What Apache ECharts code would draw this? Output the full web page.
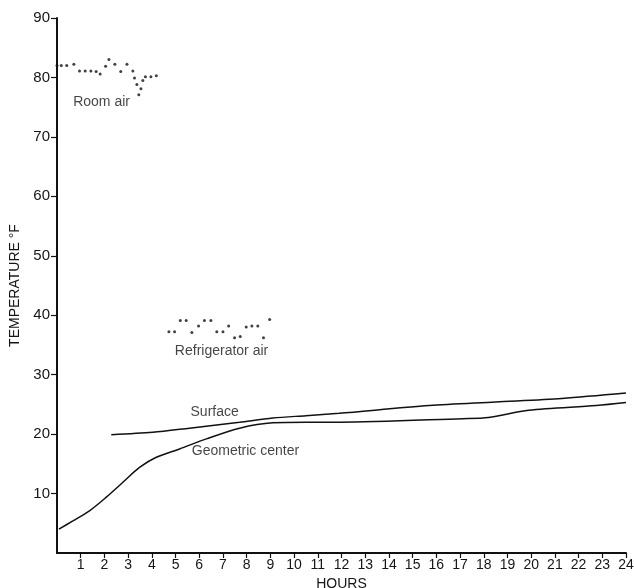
<!DOCTYPE html>
<html>
<head>
<meta charset="utf-8">
<script src="https://cdn.jsdelivr.net/npm/echarts@6/dist/echarts.min.js"></script>
<style>
html,body{margin:0;padding:0;background:#fff;}
#chart{width:634px;height:588px;}
</style>
</head>
<body>
<div id="chart"></div>
<script>
// Room air (dotted record)
var roomAirHours = [0.0, 0.18, 0.41, 0.71, 0.95, 1.19, 1.43, 1.65, 1.82, 2.05, 2.19, 2.44, 2.69, 2.95, 3.2, 3.27, 3.37, 3.45, 3.54, 3.62, 3.73, 3.96, 4.19];
var roomAirTemps = [82.0, 82.0, 82.0, 82.2, 81.1, 81.1, 81.1, 81.0, 80.6, 81.9, 83.0, 82.2, 81.0, 82.2, 81.1, 79.9, 78.8, 77.1, 78.1, 79.5, 80.1, 80.1, 80.3];

// Refrigerator air (dotted record)
var fridgeAirHours = [4.72, 4.96, 5.2, 5.45, 5.69, 5.97, 6.22, 6.49, 6.74, 7.0, 7.24, 7.49, 7.73, 7.98, 8.22, 8.47, 8.71, 8.97];
var fridgeAirTemps = [37.2, 37.2, 39.1, 39.1, 37.1, 38.2, 39.1, 39.1, 37.2, 37.2, 38.2, 36.2, 36.4, 38.0, 38.2, 38.2, 36.2, 39.3];

// Surface
var surfaceHours = [2.29, 4.04, 5.59, 7.7, 9.1, 10.5, 11.9, 15.7, 18.5, 21.3, 24.0];
var surfaceTemps = [19.9, 20.3, 21.0, 22.0, 22.7, 23.1, 23.5, 24.8, 25.4, 26.0, 26.9];

// Geometric center
var centerHours = [0.08, 0.67, 1.37, 2.08, 2.78, 3.48, 4.19, 5.17, 6.3, 7.7, 9.1, 10.5, 11.9, 17.1, 18.2, 19.9, 22.75, 24.0];
var centerTemps = [4.0, 5.4, 7.1, 9.4, 11.9, 14.4, 16.1, 17.5, 19.2, 21.0, 21.9, 22.0, 22.0, 22.6, 22.8, 24.0, 24.8, 25.3];

// Tick values shown on the axes
var xTicks = [1,2,3,4,5,6,7,8,9,10,11,12,13,14,15,16,17,18,19,20,21,22,23,24];
var yTicks = [10,20,30,40,50,60,70,80,90];

// Text annotations [hour, temp, text]
var annotations = [
  [1.88, 75.9, 'Room air'],
  [6.94, 34.0, 'Refrigerator air'],
  [6.65, 23.7, 'Surface'],
  [7.95, 17.2, 'Geometric center']
];

function zip(a, b) { return a.map(function (v, i) { return [v, b[i]]; }); }

var FONT = 'Liberation Sans';
var TXT = '#151515';
var chart = echarts.init(document.getElementById('chart'), null, {renderer: 'canvas'});
chart.setOption({
  animation: false,
  backgroundColor: '#ffffff',
  grid: {left: 57, right: 8, top: 18, bottom: 35, containLabel: false, outerBoundsMode: 'none'},
  xAxis: {
    type: 'value', min: 0, max: 24, interval: 1,
    name: 'HOURS', nameLocation: 'middle', nameGap: 23,
    nameTextStyle: {fontFamily: FONT, fontSize: 14, color: TXT},
    axisLine: {lineStyle: {color: '#111', width: 2}},
    axisTick: {inside: false, length: 5, customValues: xTicks, lineStyle: {color: '#111', width: 1.2}},
    axisLabel: {fontFamily: FONT, fontSize: 14, color: TXT, margin: 5, customValues: xTicks},
    splitLine: {show: false}
  },
  yAxis: {
    type: 'value', min: 0, max: 90, interval: 10,
    name: 'TEMPERATURE °F', nameLocation: 'middle', nameGap: 31, nameRotate: 90,
    nameTextStyle: {fontFamily: FONT, fontSize: 14, color: TXT},
    axisLine: {lineStyle: {color: '#111', width: 2}},
    axisTick: {inside: false, length: 6, customValues: yTicks, lineStyle: {color: '#111', width: 1.2}},
    axisLabel: {fontFamily: FONT, fontSize: 15, color: TXT, margin: 7, customValues: yTicks},
    splitLine: {show: false}
  },
  series: [
    {
      type: 'scatter', name: 'Room air', data: zip(roomAirHours, roomAirTemps),
      symbol: 'circle', symbolSize: 3, itemStyle: {color: '#111'}, silent: true
    },
    {
      type: 'scatter', name: 'Refrigerator air', data: zip(fridgeAirHours, fridgeAirTemps),
      symbol: 'circle', symbolSize: 3, itemStyle: {color: '#111'}, silent: true
    },
    {
      type: 'line', name: 'Surface', data: zip(surfaceHours, surfaceTemps),
      smooth: 0.3, showSymbol: false, lineStyle: {color: '#111', width: 1.5}, silent: true
    },
    {
      type: 'line', name: 'Geometric center', data: zip(centerHours, centerTemps),
      smooth: 0.3, showSymbol: false, lineStyle: {color: '#111', width: 1.5}, silent: true
    },
    {
      type: 'scatter', name: 'labels', symbolSize: 0, silent: true,
      data: annotations.map(function (a) { return {value: [a[0], a[1]], name: a[2]}; }),
      label: {show: true, position: 'inside', formatter: '{b}', fontFamily: FONT, fontSize: 14, color: TXT}
    }
  ]
});
</script>
</body>
</html>
